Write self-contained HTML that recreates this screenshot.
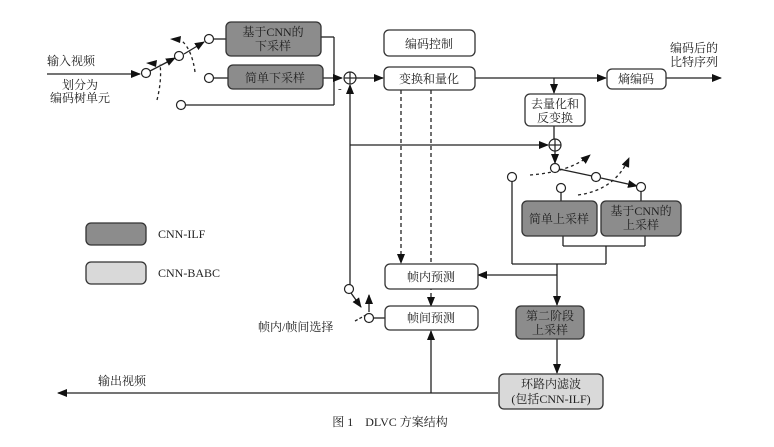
<!DOCTYPE html>
<html><head><meta charset="utf-8"><style>
html,body{margin:0;padding:0;background:#fff}
svg{display:block}
text{font-family:"Liberation Serif","Noto Serif CJK SC","Noto Sans CJK SC",serif;font-size:12px;fill:#222}
</style></head><body>
<svg width="774" height="447" viewBox="0 0 774 447" xmlns="http://www.w3.org/2000/svg">
<defs>
<marker id="a" markerWidth="10" markerHeight="8" refX="9" refY="4" orient="auto" markerUnits="userSpaceOnUse"><path d="M0,0 L10,4 L0,8 z" fill="#111"/></marker>
</defs>
<g stroke="#222" stroke-width="1.3" fill="none">
<line x1="47" y1="74" x2="140" y2="74" marker-end="url(#a)"/>
<line x1="150" y1="71" x2="175" y2="58" marker-end="url(#a)"/>
<line x1="184" y1="54" x2="204" y2="42" marker-end="url(#a)"/>
<path d="M157,100 Q162,80 160,64" stroke-dasharray="3,3"/>
<path d="M195,72 Q192,50 182,41" stroke-dasharray="3,3"/>
<line x1="214" y1="39" x2="226" y2="39"/>
<line x1="214" y1="78" x2="228" y2="78"/>
<line x1="186" y1="105" x2="334" y2="105"/>
<line x1="321" y1="37" x2="334" y2="37"/>
<line x1="334" y1="37" x2="334" y2="105"/>
<line x1="323" y1="78" x2="342" y2="78" marker-end="url(#a)"/>
<line x1="356" y1="78" x2="383" y2="78" marker-end="url(#a)"/>
<line x1="475" y1="78" x2="606" y2="78" marker-end="url(#a)"/>
<line x1="666" y1="78" x2="721" y2="78" marker-end="url(#a)"/>
<line x1="554" y1="78" x2="554" y2="93" marker-end="url(#a)"/>
<line x1="554" y1="126" x2="554" y2="139"/>
<line x1="350" y1="285" x2="350" y2="85" marker-end="url(#a)"/>
<line x1="350" y1="145" x2="548" y2="145" marker-end="url(#a)"/>
<line x1="555" y1="151" x2="555" y2="163" marker-end="url(#a)"/>
<line x1="559" y1="169" x2="592" y2="176"/>
<line x1="601" y1="178" x2="637" y2="186" marker-end="url(#a)"/>
<path d="M530,175 Q570,172 590,155" stroke-dasharray="3,3" marker-end="url(#a)"/>
<path d="M578,195 Q615,190 629,158" stroke-dasharray="3,3" marker-end="url(#a)"/>
<line x1="561" y1="192" x2="561" y2="201"/>
<line x1="641" y1="191" x2="641" y2="201"/>
<line x1="512" y1="181" x2="512" y2="264"/>
<line x1="563" y1="236" x2="563" y2="246"/>
<line x1="645" y1="236" x2="645" y2="246"/>
<line x1="563" y1="246" x2="645" y2="246"/>
<line x1="606" y1="246" x2="606" y2="264"/>
<line x1="512" y1="264" x2="606" y2="264"/>
<line x1="557" y1="264" x2="557" y2="305" marker-end="url(#a)"/>
<line x1="557" y1="275" x2="478" y2="275" marker-end="url(#a)"/>
<line x1="557" y1="339" x2="557" y2="373" marker-end="url(#a)"/>
<line x1="401" y1="90" x2="401" y2="263" stroke-dasharray="4,3" marker-end="url(#a)"/>
<line x1="431" y1="90" x2="431" y2="306" stroke-dasharray="4,3" marker-end="url(#a)"/>
<line x1="498" y1="393" x2="58" y2="393" marker-end="url(#a)"/>
<line x1="431" y1="393" x2="431" y2="331" marker-end="url(#a)"/>
<line x1="374" y1="318" x2="386" y2="318"/>
<line x1="351" y1="293" x2="361" y2="307" marker-end="url(#a)"/>
<line x1="369" y1="312" x2="369" y2="295" marker-end="url(#a)"/>
<line x1="355" y1="321" x2="366" y2="315" stroke-dasharray="3,2"/>
</g>
<g fill="#111">
<path d="M146,63 L157,60 L156,67 z"/>
<path d="M170,39 L181,36 L180,43 z"/>
</g>
<g stroke="#222" stroke-width="1.2" fill="#fff">
<circle cx="146" cy="73" r="4.5"/><circle cx="179" cy="56" r="4.5"/><circle cx="209" cy="39" r="4.5"/>
<circle cx="209" cy="78" r="4.5"/><circle cx="181" cy="105" r="4.5"/>
<circle cx="350" cy="78" r="6"/><line x1="344" y1="78" x2="356" y2="78"/><line x1="350" y1="72" x2="350" y2="84"/>
<circle cx="555" cy="145" r="6"/><line x1="549" y1="145" x2="561" y2="145"/><line x1="555" y1="139" x2="555" y2="151"/>
<circle cx="555" cy="168" r="4.5"/><circle cx="596" cy="177" r="4.5"/><circle cx="641" cy="187" r="4.5"/>
<circle cx="561" cy="188" r="4.5"/><circle cx="512" cy="177" r="4.5"/>
<circle cx="349" cy="289" r="4.5"/><circle cx="369" cy="318" r="4.5"/>
</g>
<g stroke="#333" stroke-width="1.3">
<rect x="226" y="22" width="95" height="34" rx="5" fill="#8c8c8c"/>
<rect x="228" y="65" width="95" height="24" rx="5" fill="#8c8c8c"/>
<rect x="384" y="30" width="91" height="26" rx="5" fill="#fff"/>
<rect x="384" y="67" width="91" height="23" rx="5" fill="#fff"/>
<rect x="607" y="69" width="59" height="20" rx="5" fill="#fff"/>
<rect x="525" y="94" width="60" height="32" rx="5" fill="#fff"/>
<rect x="522" y="201" width="75" height="35" rx="5" fill="#8c8c8c"/>
<rect x="601" y="201" width="80" height="35" rx="5" fill="#8c8c8c"/>
<rect x="385" y="264" width="93" height="25" rx="5" fill="#fff"/>
<rect x="385" y="306" width="93" height="24" rx="5" fill="#fff"/>
<rect x="516" y="306" width="68" height="33" rx="5" fill="#8c8c8c"/>
<rect x="499" y="374" width="104" height="35" rx="5" fill="#d9d9d9"/>
<rect x="86" y="223" width="60" height="22" rx="5" fill="#8c8c8c"/>
<rect x="86" y="262" width="60" height="22" rx="5" fill="#d9d9d9"/>
</g>
<g text-anchor="middle">
<text x="273" y="36">基于CNN的</text><text x="273" y="50">下采样</text>
<text x="275" y="82">简单下采样</text>
<text x="429" y="48">编码控制</text>
<text x="429" y="83">变换和量化</text>
<text x="636" y="83">熵编码</text>
<text x="555" y="108">去量化和</text><text x="555" y="122">反变换</text>
<text x="559" y="223">简单上采样</text>
<text x="641" y="215">基于CNN的</text><text x="641" y="229">上采样</text>
<text x="431" y="281">帧内预测</text>
<text x="431" y="322">帧间预测</text>
<text x="550" y="320">第二阶段</text><text x="550" y="334">上采样</text>
<text x="551" y="388">环路内滤波</text><text x="551" y="403">(包括CNN-ILF)</text>
<text x="80" y="89">划分为</text><text x="80" y="102">编码树单元</text>
<text x="694" y="52">编码后的</text><text x="694" y="66">比特序列</text>
<text x="390" y="426">图 1　DLVC 方案结构</text>
</g>
<text x="47" y="65">输入视频</text>
<text x="98" y="385">输出视频</text>
<text x="258" y="331">帧内/帧间选择</text>
<text x="158" y="238">CNN-ILF</text>
<text x="158" y="277">CNN-BABC</text>
<text x="338" y="92" style="font-size:11px">-</text>
</svg>
</body></html>
